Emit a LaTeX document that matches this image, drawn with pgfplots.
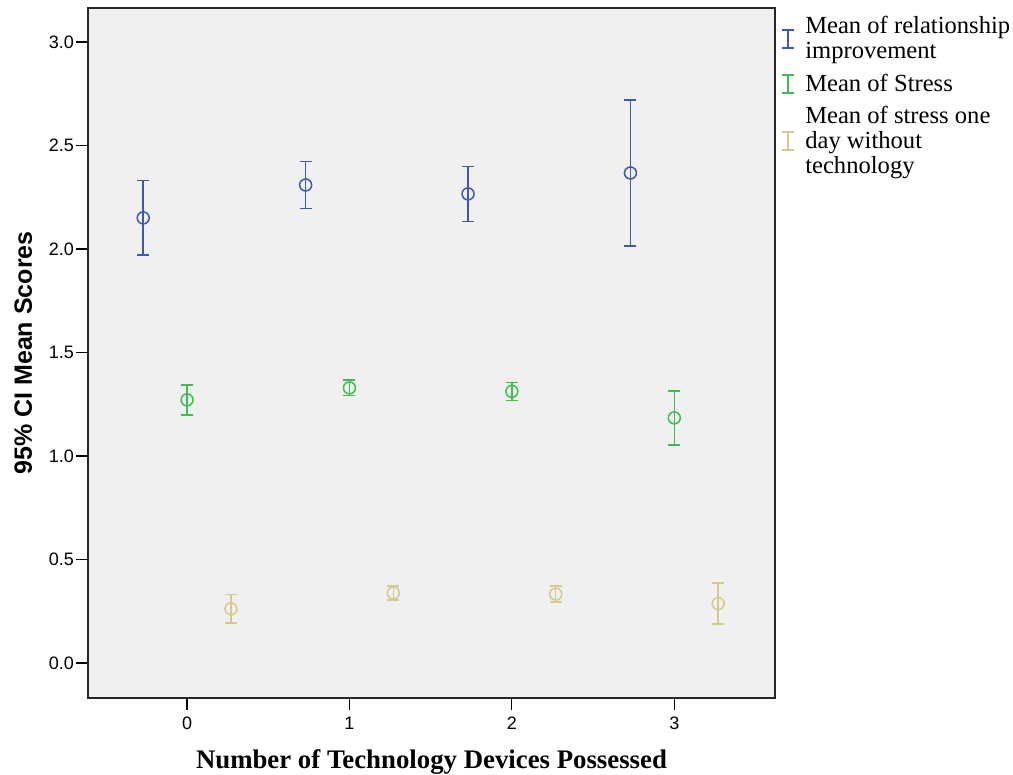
\documentclass[border=0pt]{standalone}
\usepackage{pgfplots}
\pgfplotsset{compat=1.18}
\usepackage{fontspec}
\setmainfont{Liberation Serif}
\setsansfont{Liberation Sans}
\definecolor{cblue}{RGB}{62,88,178}
\definecolor{cgreen}{RGB}{62,190,82}
\definecolor{ctan}{RGB}{212,202,140}
\definecolor{bg}{RGB}{240,240,240}
\begin{document}
\begin{tikzpicture}
\begin{axis}[
  at={(44pt,38.5pt)}, anchor=south west,
  scale only axis, width=343.5pt, height=345pt,
  xmin=-0.61, xmax=3.62, ymin=-0.169, ymax=3.164,
  axis background/.style={fill=bg},
  axis line style={line width=0.7pt, black!85},
  xtick={0,1,2,3}, ytick={0,0.5,1,1.5,2,2.5,3},
  xtick pos=bottom, ytick pos=left, tick align=outside,
  major tick length=6pt,
  tick style={black, line width=0.6pt},
  /pgf/number format/assume math mode=true,
  ticklabel style={font=\fontsize{9}{10}\selectfont\sffamily},
  yticklabel style={/pgf/number format/fixed, /pgf/number format/fixed zerofill, /pgf/number format/precision=1, xshift=2.5pt},
  xticklabel style={yshift=0pt},
  ylabel={\textbf{95\% CI Mean Scores}},
  ylabel style={font=\fontsize{12.5}{14}\selectfont\sffamily, yshift=1.5pt},
  xlabel={\textbf{Number of Technology Devices Possessed}},
  xlabel style={font=\fontsize{13.4}{15}\selectfont\rmfamily, yshift=-3pt},
  legend style={at={(1,1)}, anchor=north west, draw=none, fill=none,
    font=\fontsize{12.3}{12.5}\selectfont\rmfamily, cells={align=left}, row sep=2pt,
    /tikz/every odd column/.append style={column sep=3.5pt}},
  legend cell align=left,
  legend image code/.code={\draw[#1, line width=0.75pt] (0.18cm,-4.5pt)--(0.18cm,4.5pt) (0.08cm,-4.5pt)--(0.28cm,-4.5pt) (0.08cm,4.5pt)--(0.28cm,4.5pt);},
  error bars/error bar style={line width=0.75pt},
  error bars/error mark options={rotate=90, mark size=3pt, line width=0.75pt},
]
\addplot[cblue, only marks, mark=o, mark size=3pt, mark options={line width=0.75pt},
  error bars/.cd, y dir=both, y explicit] coordinates {
  (-0.27,2.150) +- (0,0.180)
  (0.73,2.309) +- (0,0.114)
  (1.73,2.266) +- (0,0.133)
  (2.73,2.367) +- (0,0.353)
};
\addlegendentry{Mean of relationship\\improvement}
\addplot[cgreen, only marks, mark=o, mark size=3pt, mark options={line width=0.75pt},
  error bars/.cd, y dir=both, y explicit] coordinates {
  (0,1.271) +- (0,0.072)
  (1,1.329) +- (0,0.038)
  (2,1.312) +- (0,0.043)
  (3,1.184) +- (0,0.130)
};
\addlegendentry{Mean of Stress}
\addplot[ctan, only marks, mark=o, mark size=3pt, mark options={line width=0.75pt},
  error bars/.cd, y dir=both, y explicit] coordinates {
  (0.27,0.262) +- (0,0.068)
  (1.27,0.338) +- (0,0.034)
  (2.27,0.333) +- (0,0.038)
  (3.27,0.287) +- (0,0.099)
};
\addlegendentry{Mean of stress one\\day without\\technology}
\end{axis}
\pgfresetboundingbox
\path (0,0) rectangle (506.5pt,387.5pt);
\end{tikzpicture}
\end{document}
